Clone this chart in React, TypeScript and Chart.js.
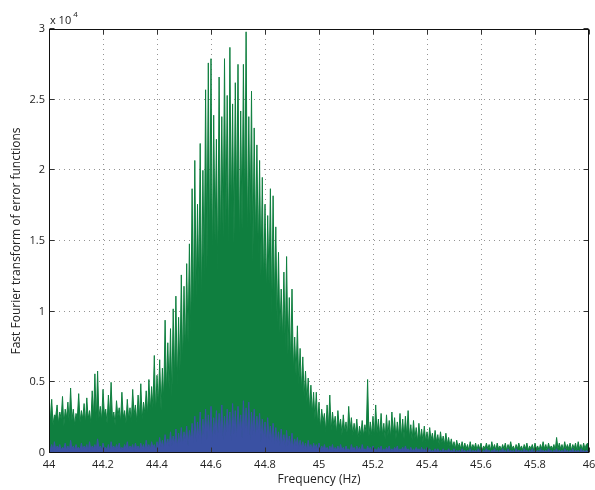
import React, { useEffect, useRef } from "react";
import { Chart, registerables } from "chart.js";

Chart.register(...registerables);

// Frequency grid of the FFT samples (Hz)
const FREQ_START = 44;
const FREQ_STEP = 0.005;

// Axis ticks
const X_TICKS = [44, 44.2, 44.4, 44.6, 44.8, 45, 45.2, 45.4, 45.6, 45.8, 46];
const Y_TICKS = [0, 0.5, 1, 1.5, 2, 2.5, 3];
const Y_EXPONENT = "4";

const X_LABEL = "Frequency (Hz)";
const Y_LABEL = "Fast Fourier transform of error functions";

// Series values, in hundreds (amplitude / 100)
const GREEN = [
  46, 22, 38, 20, 27, 26, 34, 21,
  29, 24, 40, 19, 31, 25, 36, 22, 46, 23,
  31, 20, 28, 25, 42, 22, 30, 24, 35, 21,
  39, 24, 30, 21, 44, 26, 56, 22, 58, 25,
  33, 23, 45, 27, 31, 21, 41, 25, 50, 24,
  29, 20, 37, 26, 32, 22, 43, 25, 30, 21,
  38, 24, 32, 22, 45, 27, 34, 22, 41, 25,
  49, 24, 36, 28, 44, 27, 52, 30, 47, 32,
  69, 28, 55, 34, 66, 30, 60, 38, 94, 42,
  78, 45, 88, 40, 102, 52, 111, 48, 96, 58,
  126, 62, 118, 70, 134, 78, 148, 85, 187, 96,
  207, 110, 176, 118, 219, 104, 200, 125, 257, 130,
  276, 140, 279, 132, 239, 150, 222, 128, 266, 145,
  238, 152, 279, 160, 253, 138, 287, 165, 247, 148,
  262, 170, 275, 142, 242, 158, 275, 168, 298, 150,
  238, 160, 256, 135, 230, 148, 218, 140, 207, 125,
  195, 118, 176, 112, 168, 120, 187, 98, 182, 105,
  160, 92, 142, 85, 116, 80, 128, 74, 139, 70,
  110, 62, 116, 58, 82, 55, 90, 48, 74, 44,
  68, 40, 58, 36, 53, 30, 48, 28, 43, 24,
  43, 20, 36, 17, 31, 22, 28, 15, 34, 18,
  41, 16, 29, 19, 26, 14, 30, 18, 24, 13,
  27, 15, 22, 12, 33, 16, 25, 13, 21, 14,
  24, 11, 19, 13, 23, 12, 20, 14, 52, 12,
  22, 13, 26, 11, 34, 14, 24, 12, 28, 13,
  21, 10, 27, 12, 23, 11, 29, 13, 25, 10,
  22, 12, 28, 11, 24, 10, 26, 12, 30, 11,
  20, 9, 23, 10, 18, 8, 21, 9, 17, 8,
  19, 8, 15, 7, 18, 9, 14, 7, 16, 8,
  13, 6, 15, 7, 12, 6, 14, 6, 11, 5,
  10, 4, 8, 3, 9, 4, 7, 3, 8, 3,
  7, 3, 6, 2, 8, 3, 6, 3, 7, 2,
  6, 3, 7, 2, 5, 3, 7, 3, 6, 2,
  8, 3, 6, 2, 7, 3, 5, 2, 6, 3,
  7, 2, 6, 3, 8, 3, 5, 2, 6, 3,
  7, 3, 5, 2, 6, 3, 7, 2, 5, 3,
  6, 2, 7, 3, 5, 2, 6, 3, 8, 3,
  6, 2, 7, 3, 5, 3, 6, 2, 11, 3,
  7, 3, 6, 2, 8, 3, 6, 3, 7, 2,
  6, 3, 7, 2, 8, 3, 6, 2, 7, 3,
  6, 7, 3,
];

const BLUE = [
  7, 2, 6, 1, 8, 2, 5, 3,
  6, 2, 4, 3, 7, 2, 5, 1, 9, 3,
  5, 2, 6, 3, 4, 2, 7, 2, 5, 3,
  6, 1, 8, 2, 5, 3, 6, 2, 10, 3,
  5, 2, 7, 3, 4, 2, 6, 1, 8, 3,
  5, 2, 6, 3, 7, 2, 4, 2, 6, 3,
  8, 2, 5, 3, 6, 1, 7, 3, 5, 2,
  7, 3, 6, 2, 9, 3, 6, 2, 8, 4,
  6, 2, 8, 3, 11, 4, 9, 3, 13, 5,
  10, 4, 15, 5, 12, 6, 17, 4, 14, 7,
  18, 6, 15, 8, 19, 5, 16, 9, 21, 7,
  26, 8, 22, 10, 29, 6, 24, 11, 31, 9,
  27, 12, 33, 8, 25, 13, 30, 10, 28, 14,
  34, 9, 26, 12, 31, 15, 29, 8, 35, 13,
  30, 11, 33, 16, 27, 10, 37, 14, 32, 12,
  36, 9, 29, 13, 31, 11, 26, 14, 28, 8,
  24, 10, 22, 7, 25, 9, 19, 8, 21, 6,
  18, 7, 15, 5, 17, 6, 13, 4, 16, 5,
  12, 4, 14, 3, 10, 5, 11, 3, 9, 4,
  8, 3, 7, 2, 9, 3, 6, 2, 7, 3,
  6, 2, 7, 1, 5, 2, 6, 2, 4, 1,
  5, 2, 6, 1, 4, 2, 5, 1, 6, 2,
  4, 1, 5, 2, 3, 1, 6, 2, 4, 1,
  5, 2, 4, 1, 6, 2, 3, 1, 5, 2,
  4, 1, 5, 2, 3, 1, 4, 2, 5, 1,
  3, 1, 4, 2, 5, 1, 3, 1, 4, 2,
  5, 1, 3, 2, 4, 1, 5, 2, 3, 1,
  4, 1, 3, 1, 4, 2, 3, 1, 4, 1,
  3, 1, 4, 1, 3, 1, 2, 1, 3, 1,
  3, 1, 2, 1, 3, 1, 2, 1, 3, 1,
  2, 1, 3, 0, 2, 1, 2, 0, 3, 1,
  2, 0, 2, 1, 3, 0, 2, 1, 2, 0,
  3, 1, 2, 0, 2, 1, 3, 1, 2, 0,
  2, 1, 3, 0, 2, 0, 2, 1, 3, 1,
  2, 0, 3, 1, 2, 1, 2, 0, 3, 1,
  2, 1, 2, 0, 3, 1, 2, 0, 2, 1,
  3, 0, 2, 1, 2, 0, 3, 1, 2, 1,
  2, 0, 3, 1, 2, 0, 2, 1, 3, 0,
  2, 1, 2, 0, 3, 1, 2, 0, 2, 1,
  3, 0, 2, 1, 2, 0, 3, 1, 2, 0,
  2, 1, 2,
];

const GREEN_COLOR = "#0f7f3f";
const BLUE_COLOR = "#3a51a3";
const FONT = "'Open Sans', 'DejaVu Sans', sans-serif";

const toPoints = (vals: number[]) =>
  vals.map((v, i) => ({ x: FREQ_START + i * FREQ_STEP, y: v / 100 }));

const framePlugin = {
  id: "matlabFrame",
  beforeDatasetsDraw(chart: any) {
    const { ctx, chartArea, scales } = chart;
    const { left, right, top, bottom } = chartArea;
    ctx.save();
    ctx.strokeStyle = "rgba(0,0,0,0.42)";
    ctx.lineWidth = 1;
    ctx.setLineDash([1, 4]);
    X_TICKS.forEach((t) => {
      const px = Math.round(scales.x.getPixelForValue(t)) + 0.5;
      if (px <= left + 2 || px >= right - 2) return;
      ctx.beginPath();
      ctx.moveTo(px, top);
      ctx.lineTo(px, bottom);
      ctx.stroke();
    });
    Y_TICKS.forEach((t) => {
      const py = Math.round(scales.y.getPixelForValue(t)) - 0.5;
      if (py <= top + 2 || py >= bottom - 2) return;
      ctx.beginPath();
      ctx.moveTo(left, py);
      ctx.lineTo(right, py);
      ctx.stroke();
    });
    ctx.restore();
  },
  afterDatasetsDraw(chart: any) {
    const { ctx, chartArea, scales } = chart;
    const x0 = Math.round(chartArea.left) + 0.5;
    const x1 = Math.round(chartArea.right) - 0.5;
    const y0 = Math.round(chartArea.top) + 0.5;
    const y1 = Math.round(chartArea.bottom) - 0.5;
    const TL = 5;
    ctx.save();
    ctx.setLineDash([]);
    ctx.strokeStyle = "#333";
    ctx.lineWidth = 1;
    ctx.beginPath();
    X_TICKS.forEach((t) => {
      const px = Math.round(scales.x.getPixelForValue(t)) + 0.5;
      ctx.moveTo(px, y1);
      ctx.lineTo(px, y1 - TL);
      ctx.moveTo(px, y0);
      ctx.lineTo(px, y0 + TL);
    });
    Y_TICKS.forEach((t) => {
      const py = Math.round(scales.y.getPixelForValue(t)) - 0.5;
      ctx.moveTo(x0, py);
      ctx.lineTo(x0 + TL, py);
      ctx.moveTo(x1, py);
      ctx.lineTo(x1 - TL, py);
    });
    ctx.stroke();
    ctx.strokeStyle = "#111";
    ctx.strokeRect(x0, y0, x1 - x0, y1 - y0);

    // exponent label
    ctx.fillStyle = "#222";
    ctx.textBaseline = "alphabetic";
    ctx.textAlign = "left";
    ctx.font = `11px ${FONT}`;
    const base = "x 10";
    ctx.fillText(base, chartArea.left + 1, 23.5);
    const w = ctx.measureText(base).width;
    ctx.font = `8px ${FONT}`;
    ctx.fillText(Y_EXPONENT, chartArea.left + 1 + w + 2, 16.5);
    ctx.restore();
  },
};

export default function App() {
  const ref = useRef<HTMLCanvasElement | null>(null);

  useEffect(() => {
    if (!ref.current) return;
    const chart = new Chart(ref.current, {
      type: "line",
      data: {
        datasets: [
          {
            label: "blue",
            data: toPoints(BLUE),
            borderColor: BLUE_COLOR,
            backgroundColor: BLUE_COLOR,
            fill: "origin",
            borderWidth: 1,
            pointRadius: 0,
            tension: 0,
          },
          {
            label: "green",
            data: toPoints(GREEN),
            borderColor: GREEN_COLOR,
            backgroundColor: GREEN_COLOR,
            fill: "origin",
            borderWidth: 1,
            pointRadius: 0,
            tension: 0,
          },
        ],
      },
      plugins: [framePlugin],
      options: {
        animation: false,
        responsive: false,
        events: [],
        layout: { padding: { left: 0, top: 29, right: 6, bottom: 0 } },
        plugins: {
          legend: { display: false },
          tooltip: { enabled: false },
        },
        scales: {
          x: {
            type: "linear",
            min: X_TICKS[0],
            max: X_TICKS[X_TICKS.length - 1],
            grid: { display: false, drawTicks: false },
            border: { display: false },
            afterBuildTicks: (s: any) => {
              s.ticks = X_TICKS.map((v) => ({ value: v }));
            },
            ticks: {
              autoSkip: false,
              maxRotation: 0,
              padding: 5,
              color: "#222",
              font: { family: FONT, size: 11 },
              callback: (v: any) => String(Number(Number(v).toFixed(1))),
            },
            title: {
              display: true,
              text: X_LABEL,
              color: "#222",
              font: { family: FONT, size: 12 },
              padding: { top: 0, bottom: 3 },
            },
            afterFit: (s: any) => {
              s.height = 37;
              s.paddingLeft = 0;
              s.paddingRight = 0;
            },
          },
          y: {
            type: "linear",
            min: Y_TICKS[0],
            max: Y_TICKS[Y_TICKS.length - 1],
            grid: { display: false, drawTicks: false },
            border: { display: false },
            afterBuildTicks: (s: any) => {
              s.ticks = Y_TICKS.map((v) => ({ value: v }));
            },
            ticks: {
              padding: 4,
              color: "#222",
              font: { family: FONT, size: 11 },
              callback: (v: any) => String(Number(Number(v).toFixed(1))),
            },
            title: {
              display: true,
              text: Y_LABEL,
              color: "#222",
              font: { family: FONT, size: 12 },
              padding: { top: 9, bottom: 0 },
            },
            afterFit: (s: any) => {
              s.width = 49;
              s.paddingTop = 0;
              s.paddingBottom = 0;
            },
          },
        },
      },
    });
    return () => chart.destroy();
  }, []);

  return (
    <div style={{ position: "absolute", left: 0, top: 0, width: 595, height: 490, background: "#fff" }}>
      <canvas ref={ref} width={595} height={490} style={{ display: "block" }} />
    </div>
  );
}
